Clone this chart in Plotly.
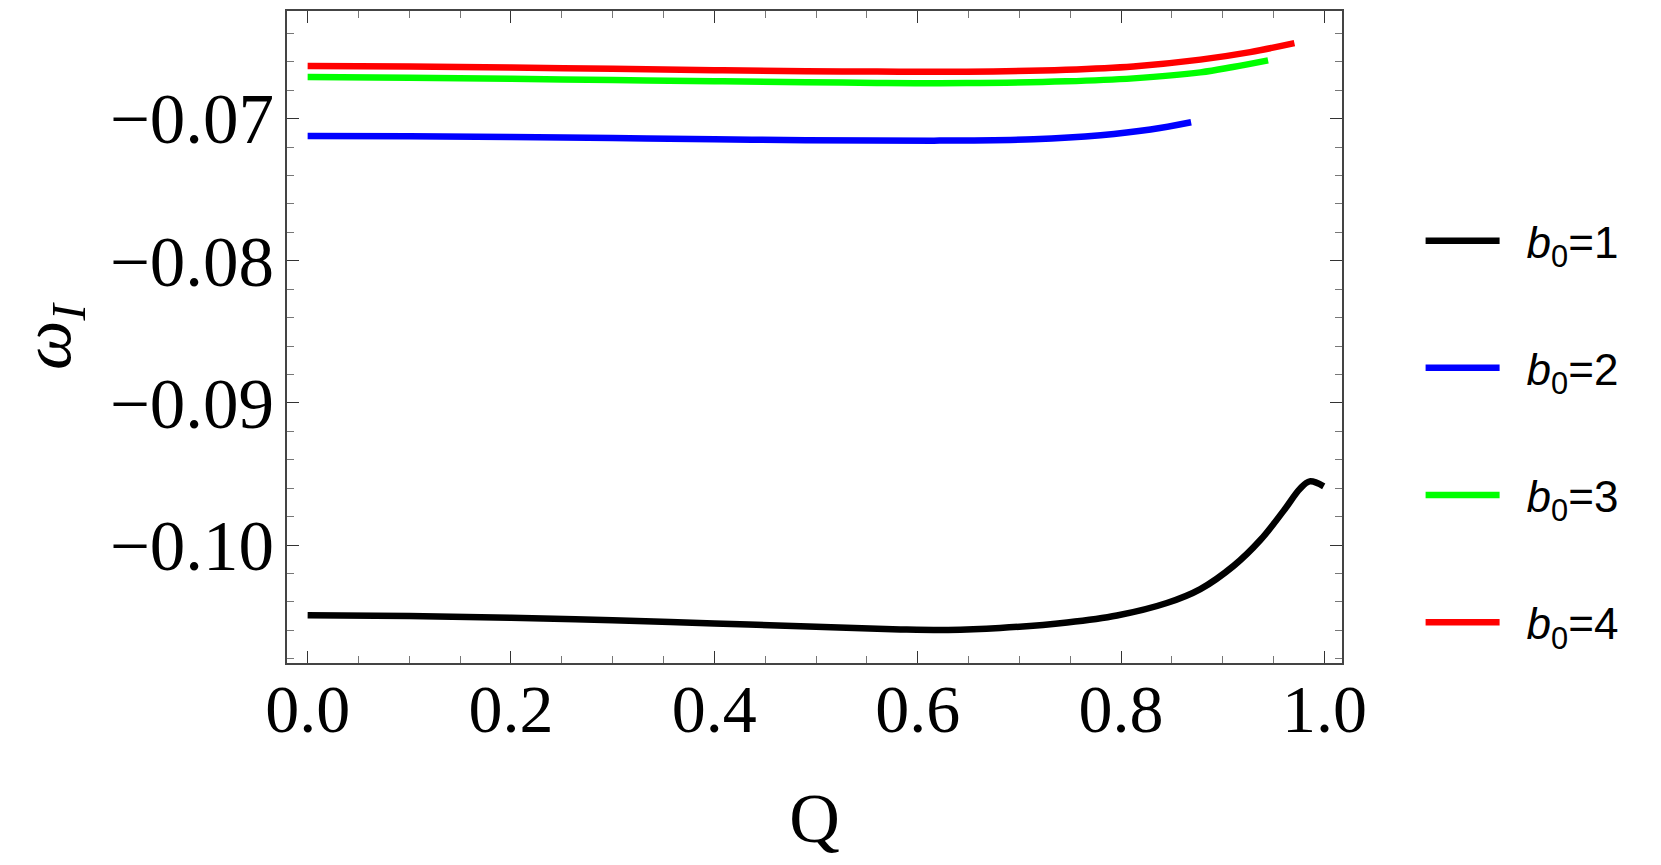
import plotly.graph_objects as go

# b0 = 1
q_b1 = [0.0, 0.1, 0.2, 0.3, 0.4, 0.5, 0.583, 0.63, 0.681, 0.747, 0.796, 0.845,
        0.878, 0.911, 0.937, 0.96, 0.976, 0.9855, 0.9993]
w_b1 = [-0.10494, -0.10500, -0.10512, -0.10530, -0.10552, -0.10575, -0.10594,
        -0.10598, -0.10584, -0.10545, -0.10496, -0.10408, -0.10310, -0.10145,
        -0.09965, -0.09758, -0.09604, -0.09552, -0.09587]

# b0 = 2
q_b2 = [0.0, 0.1, 0.2, 0.3, 0.4, 0.49, 0.616, 0.714, 0.78, 0.829, 0.8689]
w_b2 = [-0.07122, -0.07125, -0.07130, -0.07137, -0.07145, -0.07152, -0.07155,
        -0.07145, -0.07117, -0.07077, -0.07026]

# b0 = 3
q_b3 = [0.0, 0.1, 0.2, 0.3, 0.4, 0.49, 0.56, 0.648, 0.746, 0.812, 0.878, 0.91, 0.9446]
w_b3 = [-0.06708, -0.06713, -0.06720, -0.06729, -0.06737, -0.06744, -0.06749,
        -0.06750, -0.06738, -0.06717, -0.06675, -0.06637, -0.06590]

# b0 = 4
q_b4 = [0.0, 0.1, 0.2, 0.3, 0.4, 0.49, 0.56, 0.648, 0.746, 0.812, 0.878, 0.927, 0.9705]
w_b4 = [-0.06630, -0.06634, -0.06641, -0.06650, -0.06659, -0.06666, -0.06669,
        -0.06670, -0.06656, -0.06633, -0.06585, -0.06532, -0.06469]

series = [
    ("\u2002<i>b</i><sub>0</sub>=1", q_b1, w_b1, "black"),
    ("\u2002<i>b</i><sub>0</sub>=2", q_b2, w_b2, "#0000FF"),
    ("\u2002<i>b</i><sub>0</sub>=3", q_b3, w_b3, "#00FF00"),
    ("\u2002<i>b</i><sub>0</sub>=4", q_b4, w_b4, "#FF0000"),
]

fig = go.Figure()
for i, (name, q, w, col) in enumerate(series):
    fig.add_trace(go.Scatter(
        x=q, y=w, name=name, mode="lines",
        line=dict(color=col, width=6.5, shape="spline"),
        legendgroup=str(i),
    ))

serif = "Liberation Serif, Times New Roman, serif"
sans = "Liberation Sans, Arial, sans-serif"

fig.update_xaxes(
    range=[-0.0203, 1.0173],
    tickvals=[0, 0.2, 0.4, 0.6, 0.8, 1.0],
    tickformat=".1f",
    ticks="inside", ticklen=12, tickwidth=1.3, tickcolor="#333",
    minor=dict(dtick=0.05, ticks="inside", ticklen=7, tickwidth=1.2, tickcolor="#777"),
    showline=True, linecolor="#444", linewidth=1.5, mirror="allticks",
    showgrid=False, zeroline=False, automargin=False,
    tickfont=dict(family=serif, size=68, color="black"),
    ticklabelstandoff=-14,
    title=dict(text="Q", font=dict(family=serif, size=70, color="black"), standoff=48),
)

fig.update_yaxes(
    range=[-0.10830, -0.06243],
    tickvals=[-0.07, -0.08, -0.09, -0.10],
    tickformat=".2f",
    ticks="inside", ticklen=12, tickwidth=1.3, tickcolor="#333",
    minor=dict(dtick=0.002, ticks="inside", ticklen=7, tickwidth=1.2, tickcolor="#777"),
    showline=True, linecolor="#444", linewidth=1.5, mirror="allticks",
    showgrid=False, zeroline=False, automargin=False,
    tickfont=dict(family=serif, size=71, color="black"),
    ticklabelstandoff=-3,
    title=dict(text="<i>ω</i><sub><i>I</i></sub>", font=dict(family=serif, size=70, color="black"), standoff=42),
)

# page body keeps an 8px margin, so the figure is sized to fit inside it
fig.update_layout(
    width=1645,
    height=849,
    margin=dict(l=279, r=311, t=3, b=194, autoexpand=False),
    paper_bgcolor="white",
    plot_bgcolor="white",
    showlegend=True,
    legend=dict(
        x=1.0745, y=0.355, xanchor="left", yanchor="middle",
        font=dict(family=sans, size=44, color="black"),
        tracegroupgap=67, itemwidth=74,
        bgcolor="rgba(0,0,0,0)",
    ),
)

fig.write_html("out.html")
